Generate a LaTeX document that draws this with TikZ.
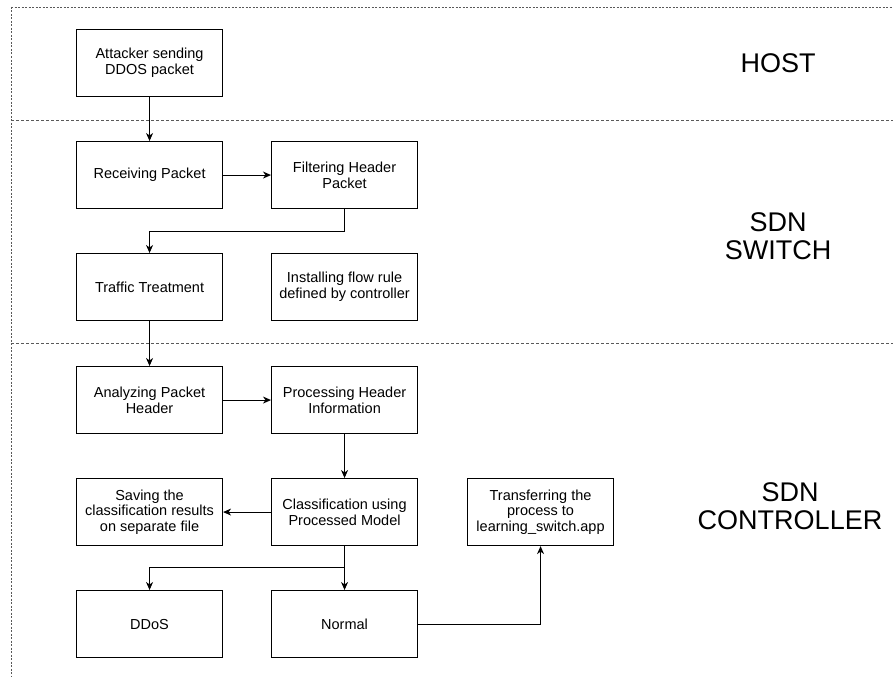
\documentclass[tikz,border=0pt]{standalone}
\usepackage{fontspec}
\setmainfont{Liberation Sans}
\usetikzlibrary{arrows.meta}
\begin{document}
\begin{tikzpicture}[x=1pt,y=-1pt,
  stepbox/.style={draw, line width=1.1pt, minimum width=146pt, minimum height=67pt, anchor=north west, inner sep=0pt, align=center, font=\fontsize{14.5}{15.8}\selectfont},
  conn/.style={line width=0.9pt, -{Stealth[length=8pt,width=7pt,inset=2.5pt]}},
  sep/.style={line width=0.8pt, black!65, dash pattern=on 3pt off 2pt},
  border/.style={line width=0.8pt, black!65, dash pattern=on 2pt off 1.5pt},
  zone/.style={align=center, font=\fontsize{27}{28.5}\selectfont}]
\useasboundingbox (0,0) rectangle (893,677);
% zone borders
\draw[border] (11,7) -- (893,7);
\draw[border] (11,7) -- (11,677);
\draw[sep] (11,120) -- (893,120);
\draw[sep] (11,343) -- (893,343);
% zone labels
\node[zone] (host) at (778,63) {HOST};
\node[zone] (switch) at (778,236) {SDN\\SWITCH};
\node[zone] (ctrl) at (790,506) {SDN\\CONTROLLER};
% boxes
\node[stepbox] (att) at (76,29) {Attacker sending\\DDOS packet};
\node[stepbox] (rec) at (76,141) {Receiving Packet};
\node[stepbox] (fil) at (271,141) {Filtering Header\\Packet};
\node[stepbox] (tra) at (76,253) {Traffic Treatment};
\node[stepbox] (ins) at (271,253) {Installing flow rule\\defined by controller};
\node[stepbox] (ana) at (76,366) {Analyzing Packet\\Header};
\node[stepbox] (pro) at (271,366) {Processing Header\\Information};
\node[stepbox] (sav) at (76,478) {Saving the\\classification results\\on separate file};
\node[stepbox] (cla) at (271,478) {Classification using\\Processed Model};
\node[stepbox] (tsf) at (467,478) {Transferring the\\process to\\learning\_switch.app};
\node[stepbox] (ddos) at (76,590) {DDoS};
\node[stepbox] (nor) at (271,590) {Normal};
% connectors
\coordinate (b1) at (fil.south |- 0,231);
\coordinate (b2) at (cla.south |- 0,567);
\draw[conn] (att) -- (rec);
\draw[conn] (rec) -- (fil);
\draw[conn] (fil.south) -- (b1) -| (tra.north);
\draw[conn] (tra) -- (ana);
\draw[conn] (ana) -- (pro);
\draw[conn] (pro) -- (cla);
\draw[conn] (cla) -- (sav);
\draw[conn] (cla) -- (nor);
\draw[conn] (b2) -| (ddos.north);
\draw[conn] (nor.east) -| (tsf.south);
\end{tikzpicture}
\end{document}
